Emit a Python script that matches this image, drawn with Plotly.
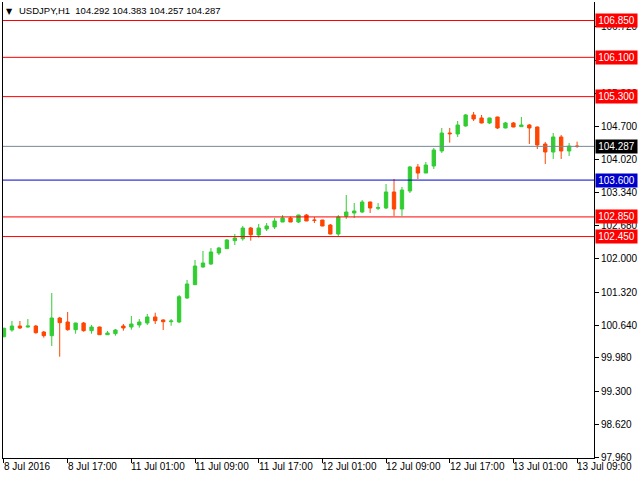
import plotly.graph_objects as go

symbol_title = "USDJPY,H1&nbsp; 104.292 104.383 104.257 104.287"

opens = [100.410, 100.547, 100.628, 100.608, 100.628, 100.506, 100.431, 100.791, 100.710, 100.553,
         100.689, 100.533, 100.608, 100.451, 100.472, 100.628, 100.608, 100.649, 100.689, 100.812,
         100.751, 100.716, 100.710, 101.199, 101.470, 101.830, 101.891, 102.115, 102.203, 102.366,
         102.406, 102.624, 102.482, 102.604, 102.645, 102.746, 102.828, 102.746, 102.889, 102.787,
         102.787, 102.685, 102.502, 102.863, 102.930, 102.950, 103.154, 103.026, 103.032, 103.358,
         103.011, 103.378, 103.867, 103.744, 103.887, 104.193, 104.559, 104.539, 104.702, 104.926,
         104.865, 104.763, 104.885, 104.661, 104.763, 104.688, 104.722, 104.681, 104.335, 104.172,
         104.478, 104.193, 104.292]
highs = [100.594, 100.730, 100.730, 100.771, 100.649, 100.527, 101.300, 100.812, 100.913, 100.695,
         100.710, 100.649, 100.615, 100.527, 100.567, 100.669, 100.832, 100.771, 100.873, 100.899,
         100.765, 100.771, 101.260, 101.565, 101.973, 102.156, 102.217, 102.237, 102.400, 102.502,
         102.665, 102.645, 102.706, 102.726, 102.828, 102.889, 102.855, 102.895, 102.909, 102.848,
         102.790, 102.706, 102.889, 103.296, 103.133, 103.195, 103.160, 103.133, 103.520, 103.622,
         103.459, 103.887, 103.928, 103.969, 104.254, 104.661, 104.661, 104.804, 104.946, 104.987,
         104.926, 104.870, 104.890, 104.783, 104.783, 104.885, 104.743, 104.690, 104.376, 104.559,
         104.519, 104.356, 104.383]
lows = [100.398, 100.512, 100.567, 100.594, 100.472, 100.390, 100.221, 100.003, 100.533, 100.472,
        100.512, 100.472, 100.445, 100.445, 100.431, 100.533, 100.553, 100.594, 100.649, 100.669,
        100.547, 100.634, 100.689, 101.178, 101.464, 101.816, 101.871, 102.074, 102.197, 102.278,
        102.366, 102.366, 102.427, 102.563, 102.604, 102.746, 102.746, 102.726, 102.767, 102.726,
        102.660, 102.495, 102.461, 102.808, 102.828, 102.930, 102.930, 102.991, 103.011, 102.869,
        102.869, 103.337, 103.622, 103.785, 103.826, 104.152, 104.362, 104.478, 104.688, 104.804,
        104.755, 104.743, 104.641, 104.655, 104.675, 104.685, 104.335, 104.233, 103.928, 104.030,
        104.030, 104.091, 104.257]
closes = [100.581, 100.628, 100.588, 100.628, 100.492, 100.431, 100.791, 100.696, 100.553, 100.689,
          100.533, 100.608, 100.451, 100.486, 100.547, 100.588, 100.669, 100.710, 100.812, 100.736,
          100.716, 100.730, 101.225, 101.484, 101.850, 101.911, 102.136, 102.217, 102.380, 102.421,
          102.624, 102.488, 102.624, 102.665, 102.767, 102.828, 102.746, 102.889, 102.767, 102.780,
          102.665, 102.502, 102.848, 102.950, 102.971, 103.154, 103.032, 103.038, 103.358, 103.011,
          103.398, 103.867, 103.744, 103.907, 104.213, 104.559, 104.545, 104.722, 104.926, 104.844,
          104.763, 104.865, 104.661, 104.763, 104.681, 104.722, 104.661, 104.315, 104.172, 104.478,
          104.193, 104.294, 104.287]

time_tick_bars = [0, 8, 16, 24, 32, 40, 48, 56, 64, 72]
time_tick_labels = ["8 Jul 2016", "8 Jul 17:00", "11 Jul 01:00", "11 Jul 09:00", "11 Jul 17:00",
                    "12 Jul 01:00", "12 Jul 09:00", "12 Jul 17:00", "13 Jul 01:00", "13 Jul 09:00"]

price_ticks = [106.72, 106.04, 105.36, 104.70, 104.02, 103.34, 102.68, 102.00, 101.32,
               100.64, 99.98, 99.30, 98.62, 97.96]

red_levels = [106.850, 106.100, 105.300, 102.850, 102.450]
blue_levels = [103.600]
current_price = 104.287

FONT = "Liberation Sans"
RED = "#FF0000"
BLUE = "#0000CD"
GRAY = "#778899"

bars = list(range(len(opens)))

fig = go.Figure()
fig.add_trace(go.Candlestick(
    x=bars, open=opens, high=highs, low=lows, close=closes,
    increasing=dict(line=dict(color="#32CD32", width=1), fillcolor="#32CD32"),
    decreasing=dict(line=dict(color="#FF4500", width=1), fillcolor="#FF4500"),
    whiskerwidth=0, hoverinfo="skip", showlegend=False,
))

shapes = []
annotations = []

def level(price, color, label_bg):
    shapes.append(dict(type="line", xref="paper", x0=0, x1=1, yref="y", y0=price, y1=price,
                       line=dict(color=color, width=1), layer="above"))
    annotations.append(dict(xref="paper", x=1, xanchor="left", xshift=1, yref="y", y=price,
                            yanchor="middle", text=f"{price:.3f}", showarrow=False,
                            bgcolor=label_bg, font=dict(family=FONT, size=10, color="white"),
                            width=39, height=11, borderpad=1, align="center"))

for p in red_levels:
    level(p, RED, RED)
for p in blue_levels:
    level(p, BLUE, BLUE)
level(current_price, GRAY, "black")

for b, t in zip(time_tick_bars, time_tick_labels):
    annotations.append(dict(xref="x", x=b, xanchor="left", xshift=-2, yref="paper", y=-0.0197,
                            yanchor="middle", text=t, showarrow=False,
                            font=dict(family=FONT, size=10, color="black")))

annotations.append(dict(xref="paper", x=0, xanchor="left", xshift=1, yref="paper", y=1,
                        yanchor="top", yshift=-3, text="▼", showarrow=False,
                        font=dict(family="DejaVu Sans", size=8, color="black")))
annotations.append(dict(xref="paper", x=0, xanchor="left", xshift=14, yref="paper", y=1,
                        yanchor="top", yshift=-1, text=symbol_title, showarrow=False,
                        font=dict(family=FONT, size=9.5, color="black")))

fig.update_layout(
    width=640, height=480,
    margin=dict(l=3, r=43, t=2, b=22),
    paper_bgcolor="white", plot_bgcolor="white",
    boxgap=0.4,
    shapes=shapes, annotations=annotations,
    xaxis=dict(range=[-0.125, 74.125], showgrid=False, zeroline=False, rangeslider=dict(visible=False),
               showline=True, linecolor="black", linewidth=1,
               tickmode="array", tickvals=time_tick_bars, ticktext=[""] * len(time_tick_bars),
               ticks="outside", ticklen=4, tickcolor="black", showticklabels=False),
    yaxis=dict(range=[97.940, 107.227], side="right", showgrid=False, zeroline=False,
               showline=True, linecolor="black", linewidth=1, mirror=True,
               tickmode="array", tickvals=price_ticks, tickformat=".3f",
               ticks="outside", ticklen=4, tickcolor="black",
               tickfont=dict(family=FONT, size=10, color="black")),
)

fig.write_html("out.html")
